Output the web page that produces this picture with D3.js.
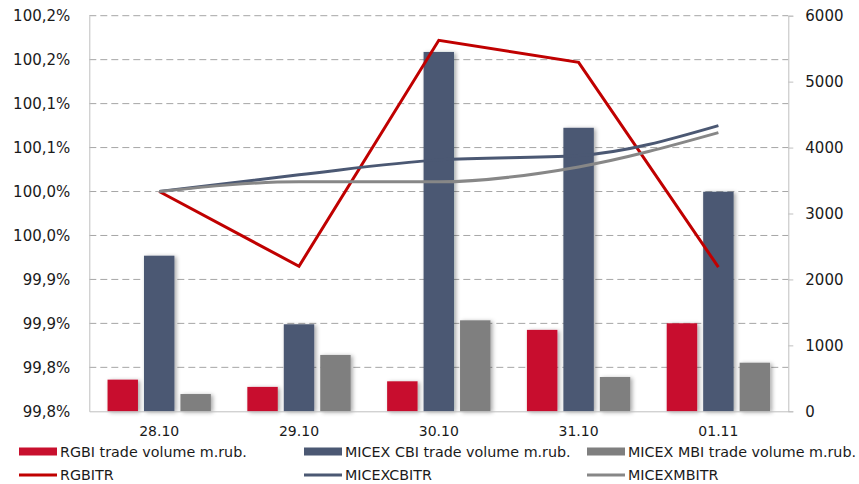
<!DOCTYPE html>
<html>
<head>
<meta charset="utf-8">
<script src="https://cdn.jsdelivr.net/npm/d3@7/dist/d3.min.js"></script>
<style>
  html, body { margin: 0; padding: 0; background: #fff; }
  svg { display: block; }
  text { font-family: Verdana, "DejaVu Sans", sans-serif; fill: #1a1a1a; }
</style>
</head>
<body>
<svg id="chart" width="859" height="484"></svg>
<script>
// Trading days
const dates = ["28.10", "29.10", "30.10", "31.10", "01.11"];

// Trade volumes, m.rub. (right axis)
const rgbiVolume  = [480, 370, 455, 1235, 1335];
const cbiVolume   = [2360, 1320, 5450, 4300, 3330];
const mbiVolume   = [262, 855, 1380, 520, 737];

// Total-return indices, % of 28.10 level (left axis)
const rgbitr      = [100.000, 99.915, 100.172, 100.147, 99.914];
const micexcbitr  = [100.000, 100.019, 100.036, 100.041, 100.075];
const micexmbitr  = [100.000, 100.011, 100.011, 100.028, 100.067];

// Axis ticks
const leftTicks  = [99.75, 99.80, 99.85, 99.90, 99.95, 100.00, 100.05, 100.10, 100.15, 100.20];
const leftLabels = ["99,8%", "99,8%", "99,9%", "99,9%", "100,0%", "100,0%", "100,1%", "100,1%", "100,2%", "100,2%"];
const rightTicks = [0, 1000, 2000, 3000, 4000, 5000, 6000];

const barNames  = ["RGBI trade volume m.rub.", "MICEX CBI trade volume m.rub.", "MICEX MBI trade volume m.rub."];
const lineNames = ["RGBITR", "MICEXCBITR", "MICEXMBITR"];

const barColors  = ["#c8102e", "#4b5873", "#7f7f7f"];
const lineColors = ["#c00000", "#4b5873", "#878787"];

const svg = d3.select("#chart");
const W = 859, H = 484;
const m = { top: 15.7, right: 70.7, bottom: 72.7, left: 89.3 };

const x = d3.scaleBand().domain(dates).range([m.left, W - m.right]).paddingInner(0).paddingOuter(0);
const xSub = d3.scaleBand().domain(d3.range(3)).range([0, x.bandwidth()]).paddingInner(0.165).paddingOuter(0.5);
const yL = d3.scaleLinear().domain([99.75, 100.20]).range([H - m.bottom, m.top]);
const yR = d3.scaleLinear().domain([0, 6000]).range([H - m.bottom, m.top]);

// soft drop shadow under the bars
const defs = svg.append("defs");
const f = defs.append("filter").attr("id", "shadow").attr("x", "-30%").attr("y", "-10%").attr("width", "160%").attr("height", "120%");
f.append("feDropShadow").attr("dx", 2).attr("dy", 1).attr("stdDeviation", 2).attr("flood-color", "#000").attr("flood-opacity", 0.35);

// dashed horizontal gridlines
svg.append("g")
  .selectAll("line")
  .data(leftTicks.slice(1))
  .join("line")
  .attr("x1", m.left).attr("x2", W - m.right)
  .attr("y1", d => yL(d)).attr("y2", d => yL(d))
  .attr("stroke", "#a6a6a6").attr("stroke-width", 1)
  .attr("stroke-dasharray", "7,4");

// left axis
const leftAxis = d3.axisLeft(yL).tickValues(leftTicks).tickSize(0).tickPadding(10)
  .tickFormat((d, i) => leftLabels[i]);
const gL = svg.append("g").attr("transform", `translate(${m.left},0)`).call(leftAxis);
gL.select(".domain").attr("stroke", "#bfbfbf");
gL.selectAll("text").attr("font-size", 15).attr("x", -19).attr("dy", "0.35em")
  .style("font-family", "Verdana, 'DejaVu Sans', sans-serif").attr("fill", "#1a1a1a");

// right axis
const rightAxis = d3.axisRight(yR).tickValues(rightTicks).tickSize(5).tickPadding(12).tickFormat(d3.format("d"));
const gR = svg.append("g").attr("transform", `translate(${W - m.right},0)`).call(rightAxis);
gR.select(".domain").attr("stroke", "#bfbfbf");
gR.selectAll(".tick line").attr("stroke", "#bfbfbf");
gR.selectAll("text").attr("font-size", 15).attr("dy", "0.35em")
  .style("font-family", "Verdana, 'DejaVu Sans', sans-serif").attr("fill", "#1a1a1a");

// bars
const volumes = [rgbiVolume, cbiVolume, mbiVolume];
const barG = svg.append("g").attr("filter", "url(#shadow)");
volumes.forEach((vals, s) => {
  barG.append("g").selectAll("rect")
    .data(vals.map((v, i) => ({ date: dates[i], v })))
    .join("rect")
    .attr("x", d => x(d.date) + xSub(s))
    .attr("width", xSub.bandwidth())
    .attr("y", d => yR(d.v))
    .attr("height", d => yR(0) - yR(d.v))
    .attr("fill", barColors[s]);
});

// category axis
const bottomAxis = d3.axisBottom(x).tickSize(0).tickPadding(15);
const gB = svg.append("g").attr("transform", `translate(0,${H - m.bottom})`).call(bottomAxis);
gB.select(".domain").attr("stroke", "#bfbfbf");
gB.selectAll("text").attr("font-size", 14)
  .style("font-family", "Verdana, 'DejaVu Sans', sans-serif").attr("fill", "#1a1a1a");

// index lines
const cx = d => x(d) + x.bandwidth() / 2;
const series = [rgbitr, micexcbitr, micexmbitr];
const curves = [d3.curveLinear, d3.curveMonotoneX, d3.curveMonotoneX];
series.forEach((vals, s) => {
  const line = d3.line().x((d, i) => cx(dates[i])).y(d => yL(d)).curve(curves[s]);
  svg.append("path").datum(vals)
    .attr("d", line)
    .attr("fill", "none")
    .attr("stroke", lineColors[s])
    .attr("stroke-width", 3)
    .attr("stroke-linejoin", "miter");
});

// legend
const legX = [19, 304, 587];
const leg = svg.append("g");
barNames.forEach((name, i) => {
  leg.append("rect").attr("x", legX[i]).attr("y", 447.5).attr("width", 38).attr("height", 8).attr("fill", barColors[i]);
  leg.append("text").attr("x", legX[i] + 41).attr("y", 451.5).attr("dy", "0.35em")
    .attr("font-size", 14.3).text(name);
});
lineNames.forEach((name, i) => {
  leg.append("line").attr("x1", legX[i]).attr("x2", legX[i] + 38).attr("y1", 475).attr("y2", 475)
    .attr("stroke", lineColors[i]).attr("stroke-width", 3);
  leg.append("text").attr("x", legX[i] + 41).attr("y", 475).attr("dy", "0.35em")
    .attr("font-size", 14.3).text(name);
});
</script>
</body>
</html>
